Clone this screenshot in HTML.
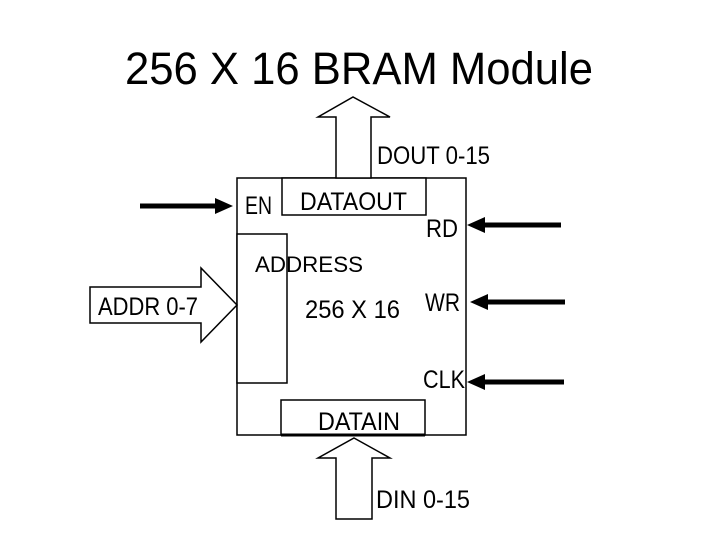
<!DOCTYPE html>
<html><head><style>html,body{margin:0;padding:0;background:#fff;width:720px;height:540px;overflow:hidden}</style></head>
<body>
<svg width="720" height="540" viewBox="0 0 720 540" xmlns="http://www.w3.org/2000/svg" font-family="Liberation Sans, sans-serif" fill="#000">
<rect width="720" height="540" fill="#fff"/>
<text x="125" y="84" font-size="45" textLength="468" lengthAdjust="spacingAndGlyphs">256 X 16 BRAM Module</text>
<g fill="#fff" stroke="#000" stroke-width="1.5">
<rect x="237" y="178" width="229" height="257"/>
<rect x="282" y="178" width="144" height="37"/>
<rect x="237" y="234" width="50" height="149"/>
<rect x="281" y="400" width="144" height="35"/>
<polygon points="336,178 336,117 318,117 353,97 390,117 371,117 371,178"/>
<polygon points="354,438 390,458 372,458 372,519 336,519 336,458 318,458"/>
<polygon points="90,287 201,287 201,268 237,305 201,342 201,323 90,323"/>
</g>
<line x1="281" y1="435" x2="425" y2="435" stroke="#000" stroke-width="3"/>
<g stroke="#000" stroke-width="5">
<line x1="140" y1="206" x2="218" y2="206"/>
<line x1="482" y1="225" x2="561" y2="225"/>
<line x1="484" y1="302" x2="565" y2="302"/>
<line x1="482" y1="382" x2="564" y2="382"/>
</g>
<polygon points="233,206 215,198 215,214"/>
<polygon points="467,225 485,217 485,233"/>
<polygon points="470,302 488,294 488,310"/>
<polygon points="467,382 485,374 485,390"/>
<g font-size="25">
<text x="377" y="164" textLength="113" lengthAdjust="spacingAndGlyphs">DOUT 0-15</text>
<text x="245" y="214" textLength="27" lengthAdjust="spacingAndGlyphs">EN</text>
<text x="300" y="210" textLength="107" lengthAdjust="spacingAndGlyphs">DATAOUT</text>
<text x="426" y="237" textLength="32" lengthAdjust="spacingAndGlyphs">RD</text>
<text x="305" y="318" textLength="95" lengthAdjust="spacingAndGlyphs">256  X 16</text>
<text x="425" y="311" textLength="35" lengthAdjust="spacingAndGlyphs">WR</text>
<text x="423" y="388" textLength="42" lengthAdjust="spacingAndGlyphs">CLK</text>
<text x="318" y="430" textLength="82" lengthAdjust="spacingAndGlyphs">DATAIN</text>
<text x="376" y="508" textLength="94" lengthAdjust="spacingAndGlyphs">DIN  0-15</text>
<text x="98" y="315" textLength="100" lengthAdjust="spacingAndGlyphs">ADDR 0-7</text>
<text x="255" y="272" font-size="22" textLength="108" lengthAdjust="spacingAndGlyphs">ADDRESS</text>
</g>
</svg>
</body></html>
